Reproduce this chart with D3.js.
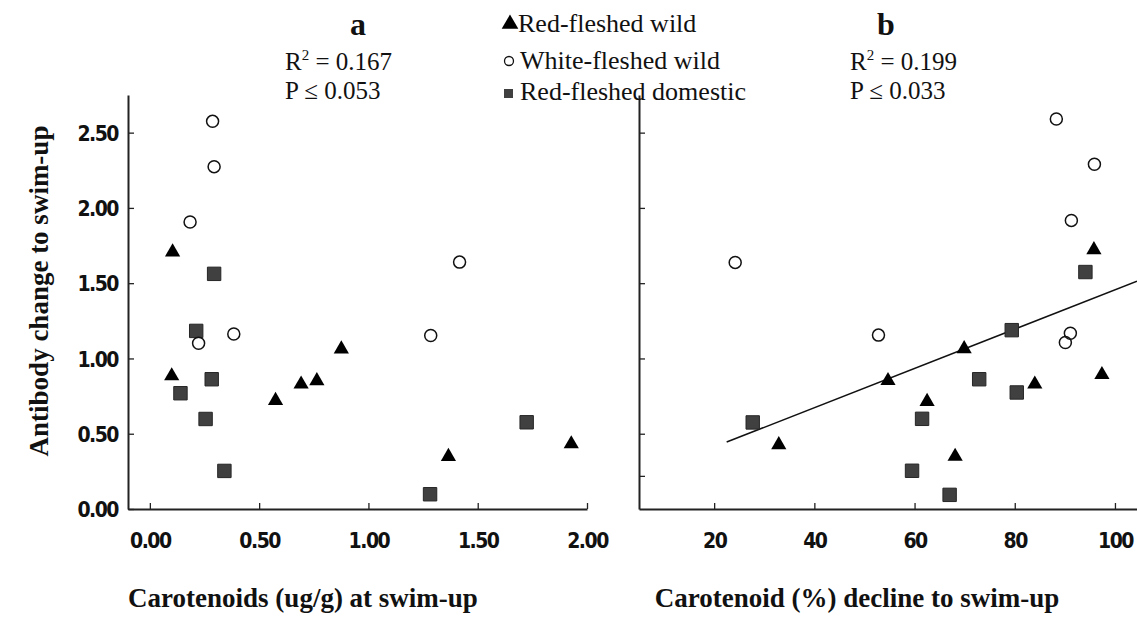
<!DOCTYPE html>
<html>
<head>
<meta charset="utf-8">
<script src="https://cdn.jsdelivr.net/npm/d3@7"></script>
<style>
	body { margin: 0; background: #fff; }
	.tick text { font-family: "Liberation Sans Narrow", "DejaVu Sans Condensed", sans-serif; font-weight: bold; font-size: 21px; letter-spacing: -1.5px; fill: #111; }
	.serif { font-family: "Liberation Serif", "Times New Roman", serif; fill: #111; }
</style>
</head>
<body>
<svg id="chart" width="1137" height="622"></svg>
<script>

// panel a: carotenoids (ug/g) at swim-up
let redWildA = [[0.104, 1.707], [0.10, 0.884], [0.575, 0.720], [0.692, 0.829], [0.764, 0.851], [0.876, 1.062], [1.366, 0.348], [1.928, 0.432]];
let whiteWildA = [[0.287, 2.575], [0.294, 2.274], [0.184, 1.906], [0.223, 1.101], [0.384, 1.163], [1.417, 1.640], [1.285, 1.152]];
let redDomA = [[0.294, 1.562], [0.212, 1.183], [0.140, 0.769], [0.283, 0.862], [0.255, 0.598], [0.341, 0.253], [1.724, 0.576], [1.282, 0.098]];

// panel b: carotenoid (%) decline to swim-up
let redWildB = [[32.9, 0.426], [95.8, 1.722], [69.9, 1.064], [54.7, 0.852], [84.0, 0.829], [97.4, 0.892], [62.5, 0.714], [68.1, 0.349]];
let whiteWildB = [[24.2, 1.638], [88.3, 2.590], [95.9, 2.290], [91.3, 1.917], [52.8, 1.155], [91.1, 1.168], [90.1, 1.106]];
let redDomB = [[27.7, 0.575], [94.1, 1.574], [79.4, 1.188], [72.9, 0.862], [80.4, 0.774], [61.5, 0.599], [59.5, 0.254], [67.0, 0.094]];

// fitted line in panel b (intercept, slope, x range)
let fitB = { a: 0.151, b: 0.01305, from: 22.5, to: 104.4 };

let yTicks = [0, 0.5, 1.0, 1.5, 2.0, 2.5];
let yTicksB = [0.22, 0.5, 1.0, 1.5, 2.0, 2.5];
let xTicksA = [0, 0.5, 1.0, 1.5, 2.0];
let xTicksB = [20, 40, 60, 80, 100];

let legendLabels = ["Red-fleshed wild", "White-fleshed wild", "Red-fleshed domestic"];
let statsA = ["0.167", "0.053"];
let statsB = ["0.199", "0.033"];

let svg = d3.select("#chart");

let y = d3.scaleLinear().domain([0, 2.75]).range([509, 95]);
let xA = d3.scaleLinear().domain([-0.1, 2.0]).range([128, 587]);
let xB = d3.scaleLinear().domain([5, 104.4]).range([639, 1137]);

function drawAxes(x, xTicks, xFmt, yTickVals, showYLabels) {
	let gx = svg.append("g")
		.attr("transform", "translate(0," + y(0) + ")")
		.call(d3.axisBottom(x).tickValues(xTicks).tickFormat(xFmt)
			.tickSizeInner(-6).tickSizeOuter(0).tickPadding(24));
	gx.select(".domain").attr("stroke", "#222").attr("stroke-width", 2);
	gx.selectAll(".tick line").attr("stroke", "#222").attr("stroke-width", 1.3);

	let gy = svg.append("g")
		.attr("transform", "translate(" + x.range()[0] + ",0)")
		.call(d3.axisLeft(y).tickValues(yTickVals).tickFormat(showYLabels ? d3.format(".2f") : "")
			.tickSizeInner(-6).tickSizeOuter(0).tickPadding(10));
	gy.select(".domain").attr("stroke", "#222").attr("stroke-width", 2);
	gy.selectAll(".tick line").attr("stroke", "#222").attr("stroke-width", 1.3);
	if (showYLabels) gy.selectAll(".tick text").attr("dy", "0.36em");
	else gy.selectAll(".tick text").remove();
}

drawAxes(xA, xTicksA, d3.format(".2f"), yTicks, true);
drawAxes(xB, xTicksB, d3.format("d"), yTicksB, false);

// regression line, panel b
svg.append("line")
	.attr("x1", xB(fitB.from)).attr("y1", y(fitB.a + fitB.b * fitB.from))
	.attr("x2", xB(fitB.to)).attr("y2", y(fitB.a + fitB.b * fitB.to))
	.attr("stroke", "#111").attr("stroke-width", 1.5);

function drawPoints(x, tri, circ, sq) {
	svg.append("g").selectAll("path").data(sq).enter()
		.append("path")
		.attr("d", d3.symbol(d3.symbolSquare, 180))
		.attr("transform", d => "translate(" + x(d[0]) + "," + y(d[1]) + ")")
		.attr("fill", "#404040").attr("stroke", "#262626").attr("stroke-width", 1);
	svg.append("g").selectAll("circle").data(circ).enter()
		.append("circle")
		.attr("cx", d => x(d[0])).attr("cy", d => y(d[1])).attr("r", 6)
		.attr("fill", "none").attr("stroke", "#111").attr("stroke-width", 1.5);
	svg.append("g").selectAll("path").data(tri).enter()
		.append("path")
		.attr("d", d3.symbol(d3.symbolTriangle, 100))
		.attr("transform", d => "translate(" + x(d[0]) + "," + y(d[1]) + ")")
		.attr("fill", "#000");
}

drawPoints(xA, redWildA, whiteWildA, redDomA);
drawPoints(xB, redWildB, whiteWildB, redDomB);

// panel titles and stats
function drawStats(cx, left, letter, stats) {
	svg.append("text").attr("class", "serif")
		.attr("x", cx).attr("y", 35).attr("text-anchor", "middle")
		.style("font-size", "32px").style("font-weight", "bold")
		.text(letter);
	let r = svg.append("text").attr("class", "serif")
		.attr("x", left).attr("y", 70).style("font-size", "25px");
	r.append("tspan").text("R");
	r.append("tspan").attr("dy", -10).style("font-size", "15px").text("2");
	r.append("tspan").attr("dy", 10).text(" = " + stats[0]);
	svg.append("text").attr("class", "serif")
		.attr("x", left).attr("y", 99).style("font-size", "25px")
		.text("P \u2264 " + stats[1]);
}

drawStats(358, 285, "a", statsA);
drawStats(886, 850, "b", statsB);

// legend
let lg = svg.append("g").attr("transform", "translate(502,0)");
lg.append("path").attr("d", d3.symbol(d3.symbolTriangle, 120))
	.attr("transform", "translate(8,24)").attr("fill", "#000");
lg.append("circle").attr("cx", 7).attr("cy", 61).attr("r", 4.5)
	.attr("fill", "none").attr("stroke", "#111").attr("stroke-width", 1.3);
lg.append("rect").attr("x", 2).attr("y", 89).attr("width", 9).attr("height", 9)
	.attr("fill", "#404040");
lg.selectAll("text.leg").data(legendLabels).enter()
	.append("text").attr("class", "serif leg")
	.attr("x", (d, i) => i === 0 ? 16 : 18)
	.attr("y", (d, i) => [32, 69, 100][i])
	.style("font-size", "26px")
	.text(d => d);

// axis titles
svg.append("text").attr("class", "serif")
	.attr("transform", "translate(48,291) rotate(-90)")
	.attr("text-anchor", "middle")
	.style("font-size", "27px").style("font-weight", "bold")
	.text("Antibody change to swim-up");

svg.append("text").attr("class", "serif")
	.attr("x", 303).attr("y", 607).attr("text-anchor", "middle")
	.style("font-size", "27px").style("font-weight", "bold")
	.text("Carotenoids (ug/g) at swim-up");

svg.append("text").attr("class", "serif")
	.attr("x", 857).attr("y", 607).attr("text-anchor", "middle")
	.style("font-size", "27px").style("font-weight", "bold")
	.text("Carotenoid (%) decline to swim-up");

</script>
</body>
</html>
